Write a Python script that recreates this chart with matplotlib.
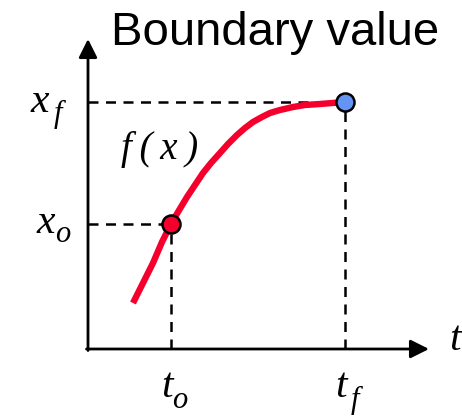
import numpy as np
import matplotlib.pyplot as plt

# curve (t, x), one unit = 100 px
curve_t = [0.45, 0.55, 0.65, 0.74, 0.83, 0.90, 0.99, 1.07, 1.15, 1.23, 1.32, 1.40,
           1.49, 1.57, 1.65, 1.74, 1.82, 1.92, 2.05, 2.17, 2.32, 2.57]
curve_x = [0.46, 0.66, 0.86, 1.07, 1.25, 1.37, 1.52, 1.64, 1.76, 1.86, 1.96, 2.05,
           2.14, 2.21, 2.27, 2.32, 2.36, 2.39, 2.42, 2.44, 2.45, 2.47]

t_o, x_o = 0.83, 1.25
t_f, x_f = 2.57, 2.47

serif = dict(family='Liberation Serif', style='italic', color='black')

fig = plt.figure(figsize=(4.62, 4.17), dpi=100)
ax = fig.add_axes([0, 0, 1, 1])
ax.set_xlim(-0.88, 3.74)
ax.set_ylim(-0.68, 3.49)
ax.axis('off')

# axes with arrows
ax.annotate('', xy=(3.41, 0), xytext=(-0.015, 0),
            arrowprops=dict(arrowstyle='-|>', color='black', lw=2.0,
                            mutation_scale=28, shrinkA=0, shrinkB=0))
ax.annotate('', xy=(0, 3.10), xytext=(0, -0.015),
            arrowprops=dict(arrowstyle='-|>', color='black', lw=2.0,
                            mutation_scale=28, shrinkA=0, shrinkB=0))

# dashed guides
dash = dict(color='black', lw=1.8, ls=(0, (4, 3)))
ax.plot([0, t_o], [x_o, x_o], **dash)
ax.plot([t_o, t_o], [0, x_o], **dash)
ax.plot([0, t_f], [x_f, x_f], **dash)
ax.plot([t_f, t_f], [0, x_f], **dash)

ax.plot(curve_t, curve_x, color='#f5002d', lw=4.6, solid_capstyle='butt',
        solid_joinstyle='round', zorder=3)

ax.plot([t_o], [x_o], 'o', ms=13, mfc='#f5002d', mec='black', mew=1.8, zorder=4)
ax.plot([t_f], [x_f], 'o', ms=13, mfc='#6495f5', mec='black', mew=1.8, zorder=4)

# labels
ax.text(-0.48, x_f, 'x', fontsize=30, ha='center', va='center', **serif)
ax.text(-0.30, x_f - 0.12, 'f', fontsize=22, ha='center', va='center', **serif)
ax.text(-0.42, x_o + 0.01, 'x', fontsize=30, ha='center', va='center', **serif)
ax.text(-0.25, x_o - 0.11, 'o', fontsize=22, ha='center', va='center', **serif)

ax.text(t_o - 0.04, -0.38, 't', fontsize=30, ha='center', va='center', **serif)
ax.text(t_o + 0.09, -0.51, 'o', fontsize=22, ha='center', va='center', **serif)
ax.text(t_f - 0.04, -0.38, 't', fontsize=30, ha='center', va='center', **serif)
ax.text(t_f + 0.10, -0.51, 'f', fontsize=22, ha='center', va='center', **serif)
ax.text(3.67, 0.09, 't', fontsize=30, ha='center', va='center', **serif)

ax.text(0.72, 2.0, 'f\u2009(\u2009x\u2009)', fontsize=28, ha='center', va='center', **serif)

ax.text(1.87, 3.04, 'Boundary value', fontsize=34, ha='center', va='baseline',
        family='Liberation Sans', color='black')

fig.savefig('out.png', dpi=100)
